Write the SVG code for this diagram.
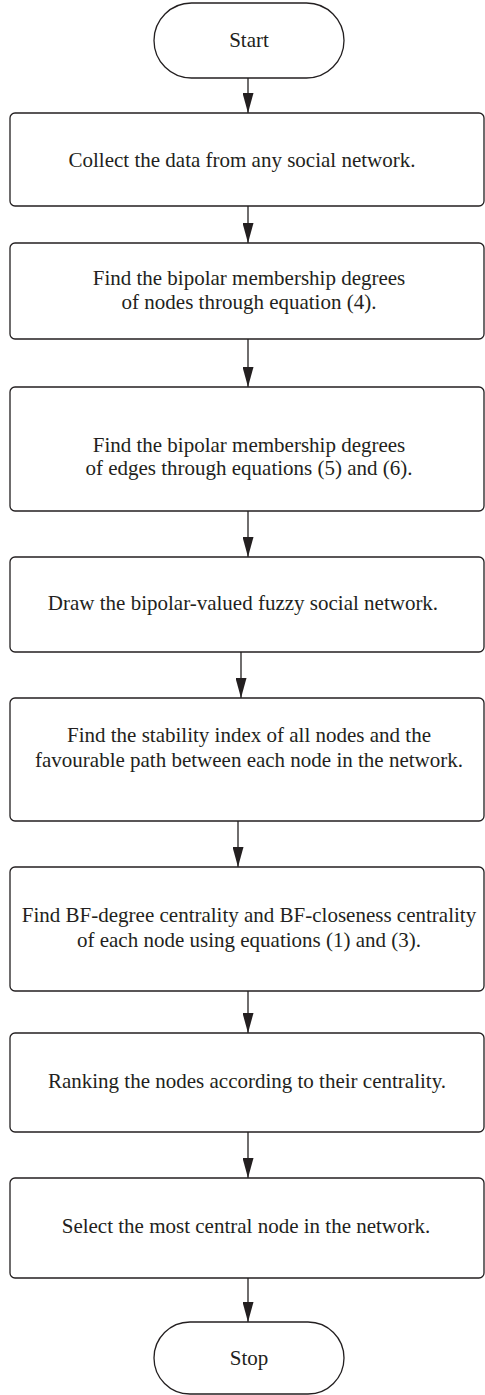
<svg xmlns="http://www.w3.org/2000/svg" width="485" height="1395" viewBox="0 0 485 1395">
<style>
.box{fill:#fff;stroke:#231f20;stroke-width:1.3}
.t{font-family:"Liberation Serif","Times New Roman",serif;font-size:21px;fill:#231f20;text-anchor:middle}
.c{stroke:#231f20;stroke-width:1.3;fill:none}
</style>
<defs>
<marker id="ah" markerUnits="userSpaceOnUse" markerWidth="20" markerHeight="11" refX="20" refY="5.5" orient="auto">
<path d="M0,0 L20,5.5 L0,11 Z" fill="#231f20"/>
</marker>
</defs>
<rect width="485" height="1395" fill="#fff"/>
<g id="connectors">
<line class="c" x1="248" y1="78" x2="248" y2="113" marker-end="url(#ah)"/>
<line class="c" x1="248" y1="206" x2="248" y2="243" marker-end="url(#ah)"/>
<line class="c" x1="248" y1="339" x2="248" y2="387" marker-end="url(#ah)"/>
<line class="c" x1="248" y1="511" x2="248" y2="557" marker-end="url(#ah)"/>
<line class="c" x1="241" y1="652" x2="241" y2="698" marker-end="url(#ah)"/>
<line class="c" x1="238" y1="821" x2="238" y2="867" marker-end="url(#ah)"/>
<line class="c" x1="248" y1="991" x2="248" y2="1033" marker-end="url(#ah)"/>
<line class="c" x1="248" y1="1132" x2="248" y2="1178" marker-end="url(#ah)"/>
<line class="c" x1="248" y1="1278" x2="248" y2="1322" marker-end="url(#ah)"/>
</g>
<g id="start">
<rect class="box" x="154" y="3" width="190" height="75" rx="37.5"/>
<text class="t" x="249" y="47">Start</text>
</g>
<g id="step1">
<rect class="box" x="10" y="113" width="474" height="93" rx="5"/>
<text class="t" x="242" y="167">Collect the data from any social network.</text>
</g>
<g id="step2">
<rect class="box" x="10" y="243" width="474" height="96" rx="5"/>
<text class="t" x="249" y="285">Find the bipolar membership degrees</text>
<text class="t" x="249" y="309">of nodes through equation (4).</text>
</g>
<g id="step3">
<rect class="box" x="10" y="387" width="474" height="124" rx="5"/>
<text class="t" x="249" y="452">Find the bipolar membership degrees</text>
<text class="t" x="249" y="475">of edges through equations (5) and (6).</text>
</g>
<g id="step4">
<rect class="box" x="10" y="557" width="474" height="95" rx="5"/>
<text class="t" x="243" y="610">Draw the bipolar-valued fuzzy social network.</text>
</g>
<g id="step5">
<rect class="box" x="10" y="698" width="474" height="123" rx="5"/>
<text class="t" x="249" y="742">Find the stability index of all nodes and the</text>
<text class="t" x="249" y="767">favourable path between each node in the network.</text>
</g>
<g id="step6">
<rect class="box" x="10" y="867" width="474" height="124" rx="5"/>
<text class="t" x="249" y="922">Find BF-degree centrality and BF-closeness centrality</text>
<text class="t" x="249" y="947">of each node using equations (1) and (3).</text>
</g>
<g id="step7">
<rect class="box" x="10" y="1033" width="474" height="99" rx="5"/>
<text class="t" x="247" y="1088">Ranking the nodes according to their centrality.</text>
</g>
<g id="step8">
<rect class="box" x="10" y="1178" width="474" height="100" rx="5"/>
<text class="t" x="246" y="1233">Select the most central node in the network.</text>
</g>
<g id="stop">
<rect class="box" x="154" y="1322" width="190" height="72" rx="36"/>
<text class="t" x="249" y="1365">Stop</text>
</g>
</svg>
